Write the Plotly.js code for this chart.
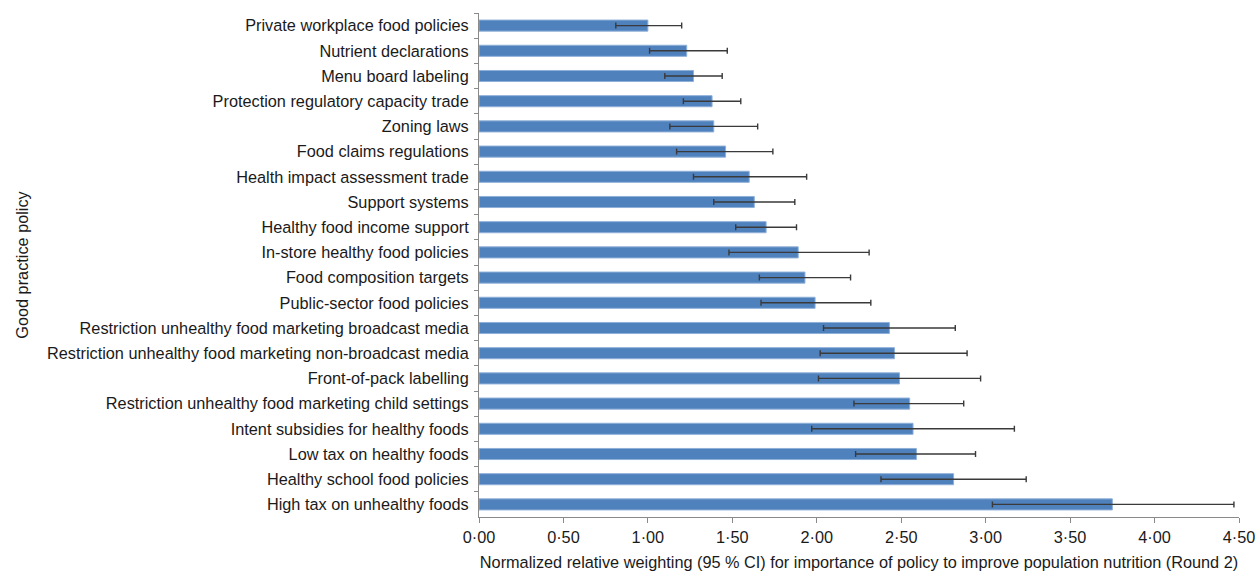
<!DOCTYPE html>
<html>
<head>
<meta charset="utf-8">
<script src="https://cdn.plot.ly/plotly-3.0.1.min.js"></script>
<style>html,body{margin:0;padding:0;background:#fff;}#chart{width:1258px;height:573px;}</style>
</head>
<body>
<div id="chart"></div>
<script>
const policies = [
  "Private workplace food policies",
  "Nutrient declarations",
  "Menu board labeling",
  "Protection regulatory capacity trade",
  "Zoning laws",
  "Food claims regulations",
  "Health impact assessment trade",
  "Support systems",
  "Healthy food income support",
  "In-store healthy food policies",
  "Food composition targets",
  "Public-sector food policies",
  "Restriction unhealthy food marketing broadcast media",
  "Restriction unhealthy food marketing non-broadcast media",
  "Front-of-pack labelling",
  "Restriction unhealthy food marketing child settings",
  "Intent subsidies for healthy foods",
  "Low tax on healthy foods",
  "Healthy school food policies",
  "High tax on unhealthy foods"
];
const weighting = [1.00, 1.23, 1.27, 1.38, 1.39, 1.46, 1.60, 1.63, 1.70, 1.89, 1.93, 1.99, 2.43, 2.46, 2.49, 2.55, 2.57, 2.59, 2.81, 3.75];
const ciLower   = [0.81, 1.01, 1.10, 1.21, 1.13, 1.17, 1.27, 1.39, 1.52, 1.48, 1.66, 1.67, 2.04, 2.02, 2.01, 2.22, 1.97, 2.23, 2.38, 3.04];
const ciUpper   = [1.20, 1.47, 1.44, 1.55, 1.65, 1.74, 1.94, 1.87, 1.88, 2.31, 2.20, 2.32, 2.82, 2.89, 2.97, 2.87, 3.17, 2.94, 3.24, 4.47];

const plus = weighting.map((v, i) => ciUpper[i] - v);
const minus = weighting.map((v, i) => v - ciLower[i]);

const trace = {
  type: 'bar',
  orientation: 'h',
  y: policies,
  x: weighting,
  marker: {color: '#4F81BD', line: {color: '#8FB0D9', width: 1}},
  error_x: {
    type: 'data', symmetric: false,
    array: plus, arrayminus: minus,
    color: '#3a3a3a', thickness: 1.4, width: 3
  },
  hoverinfo: 'x+y'
};

const fam = '"Liberation Sans", Arial, sans-serif';
const fs = 16.3;
const font = {family: fam, size: fs, color: '#1a1a1a'};

const layout = {
  width: 1258, height: 573,
  margin: {l: 479, r: 19, t: 13, b: 56, pad: 0},
  paper_bgcolor: '#fff', plot_bgcolor: '#fff',
  font: font,
  separators: '·,',
  showlegend: false,
  bargap: 0.56,
  xaxis: {
    range: [0, 4.5], dtick: 0.5, tick0: 0, tickformat: '.2f',
    showgrid: false, zeroline: false,
    showline: true, linecolor: '#8a8a8a', linewidth: 1,
    ticks: 'outside', ticklen: 5, tickcolor: '#8a8a8a',
    ticklabeloverflow: 'allow',
    tickfont: {family: fam, size: fs, color: '#1a1a1a'},
    title: {text: 'Normalized relative weighting (95 % CI) for importance of policy to improve population nutrition (Round 2)',
            font: {family: fam, size: fs, color: '#1a1a1a'}, standoff: 12},
    automargin: false
  },
  yaxis: {
    type: 'category', autorange: 'reversed',
    showgrid: false, zeroline: false,
    showline: true, linecolor: '#8a8a8a', linewidth: 1,
    ticks: 'outside', ticklen: 4, tickcolor: '#8a8a8a', tickson: 'boundaries',
    ticklabelstandoff: 6,
    tickfont: {family: fam, size: fs, color: '#1a1a1a'},
    title: {text: 'Good practice policy', font: {family: fam, size: fs, color: '#1a1a1a'}, standoff: 14},
    automargin: false
  }
};

Plotly.newPlot('chart', [trace], layout, {displayModeBar: false, staticPlot: true});
</script>
</body>
</html>
